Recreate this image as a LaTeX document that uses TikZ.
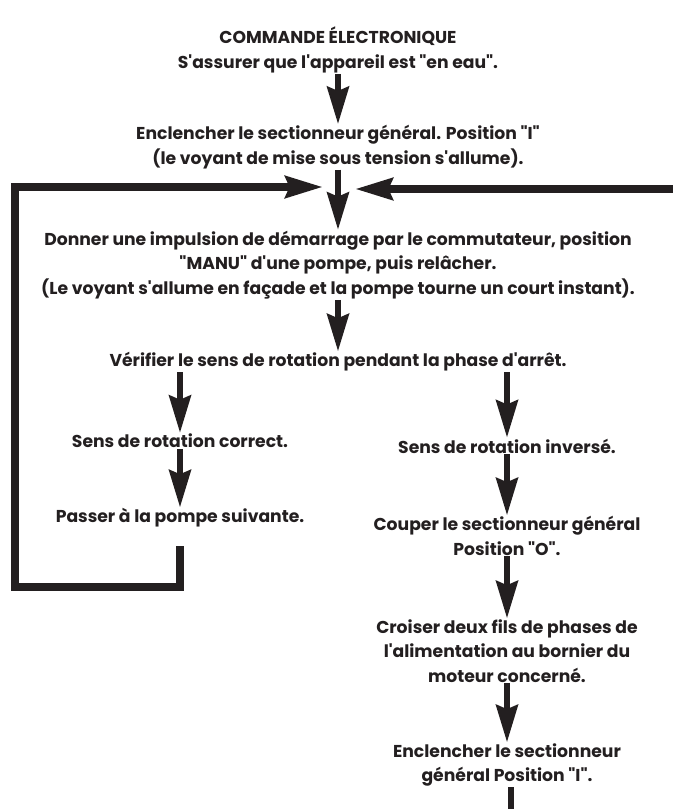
\documentclass[tikz,border=0pt]{standalone}
\usepackage{fontspec}
\setmainfont{Poppins}[Ligatures=TeXOff]
\usetikzlibrary{arrows.meta}
\definecolor{ink}{HTML}{231F20}

\begin{document}
\begin{tikzpicture}[x=0.75pt,y=-0.75pt]
  \tikzset{
    stepnode/.style={align=center,inner sep=0.5pt,text=ink,
      font=\bfseries\fontsize{12.9}{18.4}\selectfont},
    flowarr/.style={-{Stealth[length=28pt,width=16pt,inset=3pt]},
      draw=ink,line width=5.2pt},
    backarr/.style={flowarr,line width=6pt,line join=miter},
  }
  \useasboundingbox (0,0) rectangle (672,809);
  % main column
  \node[stepnode] (eau)   at (338,50)  {COMMANDE ÉLECTRONIQUE\\S'assurer que l'appareil est "en eau".};
  \node[stepnode] (encl)  at (338,147) {Enclencher le sectionneur général. Position "I"\\(le voyant de mise sous tension s'allume).};
  \node[stepnode] (donn)  at (338,265) {Donner une impulsion de démarrage par le commutateur, position\\"MANU" d'une pompe, puis relâcher.\\(Le voyant s'allume en façade et la pompe tourne un court instant).};
  \node[stepnode] (verif) at (338,362) {Vérifier le sens de rotation pendant la phase d'arrêt.};
  % left branch
  \node[stepnode] (cor)   at (180,441) {Sens de rotation correct.};
  \node[stepnode] (pass)  at (180,518) {Passer à la pompe suivante.};
  % right branch
  \node[stepnode] (inv)   at (507,446) {Sens de rotation inversé.};
  \node[stepnode] (coup)  at (507,536) {Couper le sectionneur général\\Position "O".};
  \node[stepnode] (crois) at (507,651) {Croiser deux fils de phases de\\l'alimentation au bornier du\\moteur concerné.};
  \node[stepnode] (ens)   at (507,765) {Enclencher le sectionneur\\général Position "I".};

  \coordinate (joinL) at (323,187);
  \coordinate (joinR) at (355,189);
  \coordinate (edgeR) at (680,189);
  \coordinate (loopS) at (180,546);
  \coordinate (loopB) at (14.5,587);
  \coordinate (suite) at (511,860);

  \draw[flowarr] (eau) -- (encl);
  \draw[flowarr] (encl) -- (donn);
  \draw[flowarr] (donn) -- (verif);
  \draw[flowarr] (verif.south -| cor) -- (cor);
  \draw[flowarr] (verif.south -| inv) -- (inv);
  \draw[flowarr] (cor) -- (pass);
  \draw[flowarr] (inv) -- (coup);
  \draw[flowarr] (coup) -- (crois);
  \draw[flowarr] (crois) -- (ens);
  \draw[flowarr] (ens.south -| suite) -- (suite);
  % return loops
  \draw[backarr] (loopS) |- (loopB) |- (joinL);
  \draw[backarr] (edgeR) -- (joinR);
\end{tikzpicture}
\end{document}
